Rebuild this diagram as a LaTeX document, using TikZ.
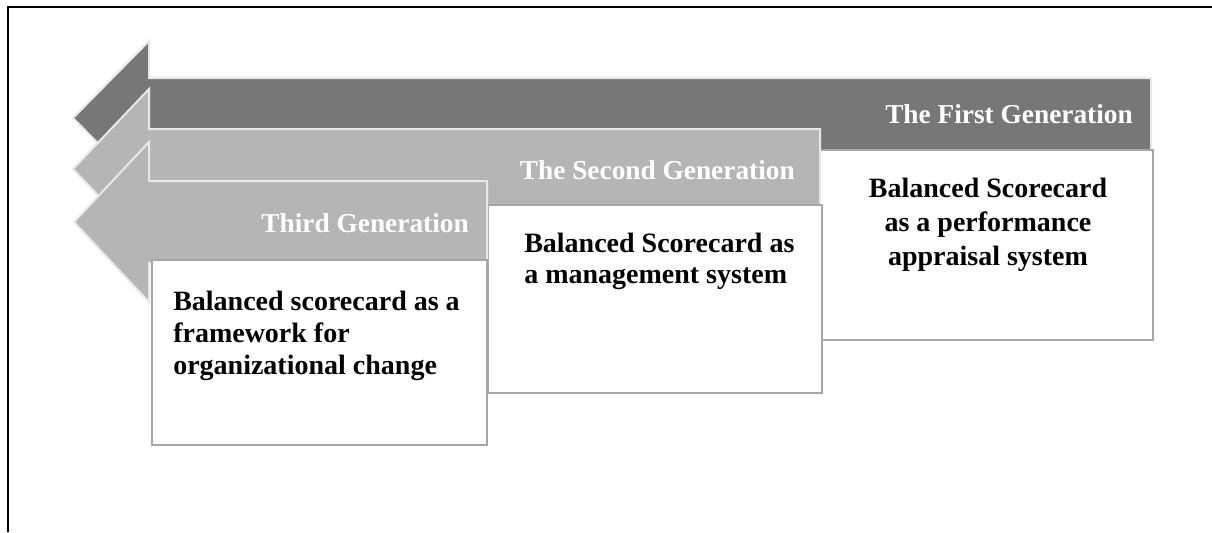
\documentclass[tikz,border=0pt]{standalone}
\usepackage{fontspec}
\setmainfont{Liberation Serif}
\usetikzlibrary{positioning}

\definecolor{darkarrow}{HTML}{777777}
\definecolor{lightarrow}{HTML}{B5B5B5}
\definecolor{boxgray}{HTML}{A6A6A6}
\definecolor{edgegray}{HTML}{E8E8E8}

\tikzset{
  genarrow/.style={draw=edgegray, line width=1.5pt},
  genbox/.style={draw=boxgray, line width=1.5pt, fill=white},
  gentitle/.style={text=white, font=\fontsize{20.5}{24}\selectfont\bfseries, inner sep=0pt, anchor=base east},
  boxtext/.style={font=\fontsize{21}{24}\selectfont\bfseries, inner sep=0pt}
}

\begin{document}
\begin{tikzpicture}[x=0.75pt, y=-0.75pt]

  \useasboundingbox (0,0) rectangle (1212,532);

  % Frame
  \draw[line width=1.5pt] (8,532) -- (8,7) -- (1212,7);

  % First generation
  \draw[genarrow, fill=darkarrow] (73,118) -- (149,41) -- (149,78) -- (1151,78) -- (1151,158) -- (149,158) -- (149,195) -- cycle;
  \draw[genbox] (820,150) rectangle (1153,340);
  \node[gentitle] (firstTitle) at (1133,123) {The First Generation};
  \node[boxtext, align=center, anchor=north, font=\fontsize{21}{25.5}\selectfont\bfseries] (firstText) at (988,178)
    {Balanced Scorecard\\as a performance\\appraisal system};

  % Second generation
  \draw[genarrow, fill=lightarrow] (73,169) -- (149,89) -- (149,129) -- (820,129) -- (820,209) -- (149,209) -- (149,249) -- cycle;
  \draw[genbox] (488,205) rectangle (822,393);
  \node[gentitle] (secondTitle) at (795,179) {The Second Generation};
  \node[boxtext, align=left, anchor=north west, font=\fontsize{21}{23.25}\selectfont\bfseries] (secondText) at (524,233)
    {Balanced Scorecard as\\a management system};

  % Third generation
  \draw[genarrow, fill=lightarrow] (74,222) -- (149,142) -- (149,181) -- (487,181) -- (487,263) -- (149,263) -- (149,302) -- cycle;
  \draw[genbox] (152,260) rectangle (487,445);
  \node[gentitle] (thirdTitle) at (469,232) {Third Generation};
  \node[boxtext, align=left, anchor=north west] (thirdText) at (173,291)
    {Balanced scorecard as a\\framework for\\organizational change};

\end{tikzpicture}
\end{document}
